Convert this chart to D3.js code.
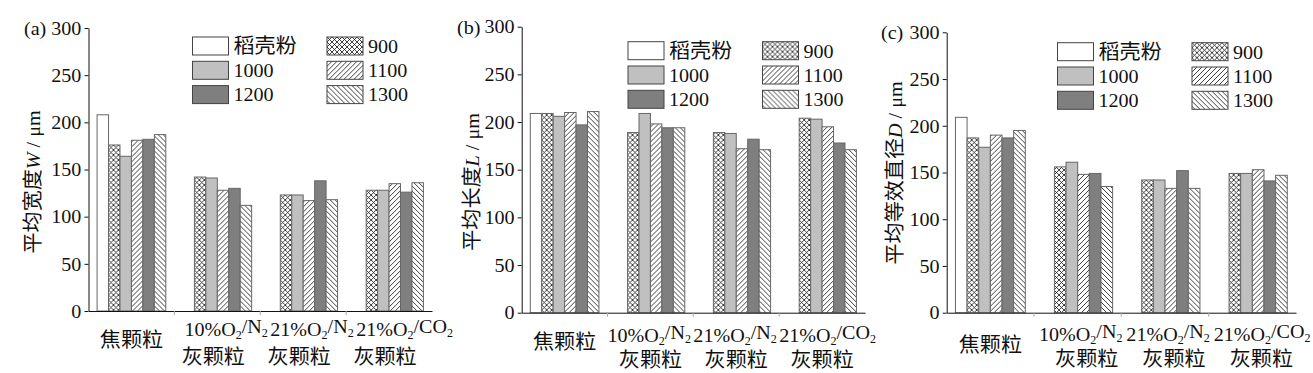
<!DOCTYPE html>
<html>
<head>
<meta charset="utf-8">
<script src="https://cdn.jsdelivr.net/npm/d3@7"></script>
<style>
  body { margin: 0; background: #fff; }
  svg { display: block; font-family: "Liberation Serif", "Times New Roman", "Noto Sans CJK SC", serif; }
</style>
</head>
<body>
<svg id="chart" width="1313" height="373"></svg>
<script>
// Categories (x groups) and series (legend)
const categories = ["焦颗粒", "10%O2/N2", "21%O2/N2", "21%O2/CO2"];
const series = ["稻壳粉", "900", "1000", "1100", "1200", "1300"];
const yTicks = [0, 50, 100, 150, 200, 250, 300];

// Values: one row per category, one column per series
const widthW = [
  [208, 176, 164, 181, 182, 187],
  [null, 142, 141, 128, 130, 112],
  [null, 123, 123, 117, 138, 118],
  [null, 128, 128, 135, 126, 136],
];
const lengthL = [
  [209, 209, 206, 210, 197, 211],
  [null, 189, 209, 198, 194, 194],
  [null, 189, 188, 172, 182, 171],
  [null, 204, 203, 195, 178, 171],
];
const diameterD = [
  [209, 187, 177, 190, 187, 195],
  [null, 156, 161, 148, 149, 135],
  [null, 142, 142, 133, 152, 133],
  [null, 149, 149, 153, 141, 147],
];

// Set up layout for the three panels
let panels = [
  { tag: "(a)", values: widthW, title: "平均宽度", sym: "W",
    left: 88.5, right: 432, y0: 311, yTop: 28, tagX: 24, titleX: 33, titleY: 182,
    legX: 192.5, legY: 37, l1dx: 10, l2dx: -4, singleY: 340, line1Y: 329, line2Y: 357 },
  { tag: "(b)", values: lengthL, title: "平均长度", sym: "L",
    left: 521.7, right: 865, y0: 312.7, yTop: 26.7, tagX: 457, titleX: 472, titleY: 182,
    legX: 628, legY: 41.7, l1dx: 0, l2dx: 0, singleY: 342, line1Y: 335, line2Y: 360 },
  { tag: "(c)", values: diameterD, title: "平均等效直径", sym: "D",
    left: 946.7, right: 1296, y0: 312.7, yTop: 32.3, tagX: 881, titleX: 895, titleY: 173,
    legX: 1057.5, legY: 42.7, l1dx: 5, l2dx: 9, singleY: 345, line1Y: 334, line2Y: 359 },
];

let fontSize = 19.5;
let cjkSize = 20.5;
let stretch = "scale(1.03,1)";
let ink = "#111";
let barStroke = "#666";

let fills = {
  "稻壳粉": "#fff",
  "900": "url(#cross)",
  "1000": "#c0c0c0",
  "1100": "url(#fwd)",
  "1200": "#7f7f7f",
  "1300": "url(#back)",
};
let legendOrder = [["稻壳粉", "1000", "1200"], ["900", "1100", "1300"]];

const svg = d3.select("#chart");

// Hatch patterns
const defs = svg.append("defs");
function hatch(id, size, d) {
  let p = defs.append("pattern")
    .attr("id", id)
    .attr("patternUnits", "userSpaceOnUse")
    .attr("width", size)
    .attr("height", size);
  p.append("rect").attr("width", size).attr("height", size).attr("fill", "#fff");
  p.append("path").attr("d", d).attr("stroke", "#111").attr("stroke-width", 0.8).attr("fill", "none");
}
hatch("cross", 5, "M0,0L5,5M5,0L0,5");
hatch("fwd", 5, "M0,5L5,0M-1,1L1,-1M4,6L6,4");
hatch("back", 5, "M0,0L5,5M-1,4L1,6M4,-1L6,1");

// Write "O2" style formulas with subscripts
function formula(text, str) {
  str.split(/(?<=[A-Z])(2)/).forEach((part, i) => {
    if (!part) return;
    let t = text.append("tspan").text(part);
    if (i % 2 === 1) t.attr("font-size", fontSize * 0.6).attr("dy", "0.3em");
    else if (i > 0) t.attr("dy", "-0.3em");
  });
}

panels.forEach((p) => {
  let g = svg.append("g");

  // Scales
  let x0 = d3.scaleBand().domain(categories).range([p.left, p.right]).padding(0);
  let x1 = d3.scaleBand().domain(series).range([0, x0.bandwidth()]).paddingInner(0).paddingOuter(0.75);
  let y = d3.scaleLinear().domain([0, 300]).range([p.y0, p.yTop]);

  // Bars
  let groups = g.append("g")
    .selectAll("g")
    .data(categories)
    .join("g")
    .attr("transform", (d) => `translate(${x0(d)},0)`);

  groups.selectAll("rect")
    .data((d, i) => series.map((s, j) => ({ s, v: p.values[i][j] })).filter((e) => e.v != null))
    .join("rect")
    .attr("x", (d) => x1(d.s))
    .attr("y", (d) => y(d.v))
    .attr("width", x1.bandwidth())
    .attr("height", (d) => y(0) - y(d.v))
    .attr("fill", (d) => fills[d.s])
    .attr("stroke", barStroke)
    .attr("stroke-width", 1);

  // Y axis
  let yAxisG = g.append("g")
    .attr("transform", `translate(${p.left},0)`)
    .call(d3.axisLeft(y).tickValues(yTicks).tickSize(4).tickSizeOuter(0).tickPadding(3));
  yAxisG.selectAll("path, line").attr("stroke", ink);
  yAxisG.selectAll("text")
    .attr("font-size", fontSize)
    .attr("font-family", "Liberation Serif")
    .attr("fill", ink)
    .attr("transform", stretch);

  // X axis line
  let xAxisG = g.append("g")
    .attr("transform", `translate(0,${p.y0})`)
    .call(d3.axisBottom(x0).tickSize(0).tickFormat(""));
  xAxisG.select(".domain").attr("stroke", ink);

  // Faint marks between groups
  g.append("g")
    .selectAll("line")
    .data(categories.slice(1))
    .join("line")
    .attr("x1", (d) => x0(d))
    .attr("x2", (d) => x0(d))
    .attr("y1", p.y0)
    .attr("y2", p.y0 + 4)
    .attr("stroke", "#aaa");

  // Category labels
  categories.forEach((c, i) => {
    if (i === 0) {
      g.append("text")
        .attr("transform", `translate(${x0(c) + x0.bandwidth() / 2},${p.singleY}) ${stretch}`)
        .attr("text-anchor", "middle")
        .attr("dy", "0.35em")
        .attr("font-size", cjkSize)
        .attr("fill", ink)
        .text(c);
    } else {
      let t1 = g.append("text")
        .attr("transform", `translate(${x0(c) + p.l1dx},${p.line1Y}) ${stretch}`)
        .attr("dy", "0.35em")
        .attr("font-size", fontSize)
        .attr("fill", ink);
      formula(t1, c);
      g.append("text")
        .attr("transform", `translate(${x0(c) + x0.bandwidth() / 2 + p.l2dx},${p.line2Y}) ${stretch}`)
        .attr("text-anchor", "middle")
        .attr("dy", "0.35em")
        .attr("font-size", cjkSize)
        .attr("fill", ink)
        .text("灰颗粒");
    }
  });

  // Panel tag
  g.append("text")
    .attr("transform", `translate(${p.tagX},${p.yTop}) ${stretch}`)
    .attr("dy", "0.35em")
    .attr("font-size", fontSize)
    .attr("fill", ink)
    .text(p.tag);

  // Y axis title
  let title = g.append("text")
    .attr("transform", `translate(${p.titleX},${p.titleY}) rotate(-90) ${stretch}`)
    .attr("text-anchor", "middle")
    .attr("dy", "0.35em")
    .attr("font-size", cjkSize)
    .attr("fill", ink);
  title.append("tspan").text(p.title);
  title.append("tspan").attr("font-style", "italic").attr("font-size", fontSize).text(p.sym);
  title.append("tspan").attr("font-size", fontSize).text(" / μm");

  // Legend
  let legend = g.append("g").attr("transform", `translate(${p.legX},${p.legY})`);
  legendOrder.forEach((col, ci) => {
    let item = legend.append("g")
      .selectAll("g")
      .data(col)
      .join("g")
      .attr("transform", (d, ri) => `translate(${ci * 134.5},${ri * 24.3})`);
    item.append("rect")
      .attr("width", 36)
      .attr("height", 18)
      .attr("fill", (d) => fills[d])
      .attr("stroke", "#444")
      .attr("stroke-width", 1);
    item.append("text")
      .attr("transform", `translate(41,9) ${stretch}`)
      .attr("dy", "0.35em")
      .attr("font-size", (d) => (isNaN(+d) ? cjkSize : fontSize))
      .attr("fill", ink)
      .text((d) => d);
  });
});
</script>
</body>
</html>
